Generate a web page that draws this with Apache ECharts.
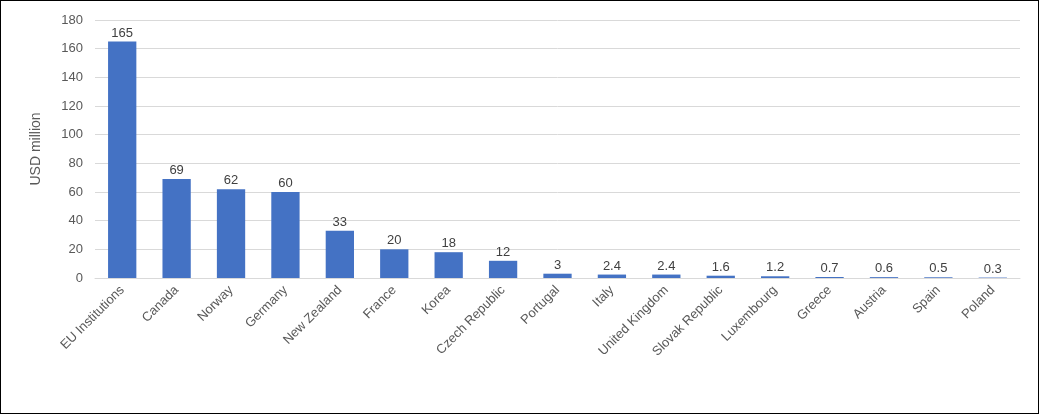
<!DOCTYPE html>
<html><head><meta charset="utf-8">
<script src="https://cdn.jsdelivr.net/npm/echarts@6/dist/echarts.min.js"></script>
<style>html,body{margin:0;padding:0;background:#fff}#c{width:1037px;height:412px;border:1px solid #000}</style>
</head><body><div id="c"></div>
<script>
const categories = ["EU Institutions","Canada","Norway","Germany","New Zealand","France","Korea","Czech Republic","Portugal","Italy","United Kingdom","Slovak Republic","Luxembourg","Greece","Austria","Spain","Poland"];
const values = [165,69,62,60,33,20,18,12,3,2.4,2.4,1.6,1.2,0.7,0.6,0.5,0.3];
const yTicks = {min:0,max:180,interval:20};
const chart = echarts.init(document.getElementById('c'));
chart.setOption({
  animation:false,
  grid:{left:94,right:18,top:19,bottom:135},
  xAxis:{type:'category',data:categories,
    axisLine:{lineStyle:{color:'#d9d9d9'}},axisTick:{show:false},
    axisLabel:{rotate:45,color:'#595959',fontFamily:'Liberation Sans',fontSize:13,interval:0,margin:10}},
  yAxis:{type:'value',min:yTicks.min,max:yTicks.max,interval:yTicks.interval,
    name:'USD million',nameLocation:'middle',nameGap:52,nameRotate:90,
    nameTextStyle:{color:'#595959',fontFamily:'Liberation Sans',fontSize:14},
    axisLabel:{color:'#595959',fontFamily:'Liberation Sans',fontSize:13,margin:12},
    splitLine:{lineStyle:{color:'#d9d9d9'}}},
  series:[{type:'bar',data:values,barWidth:'52%',itemStyle:{color:'#4472C4'},
    label:{show:true,position:'top',color:'#404040',fontFamily:'Liberation Sans',fontSize:13,distance:2}}]
});
</script></body></html>
